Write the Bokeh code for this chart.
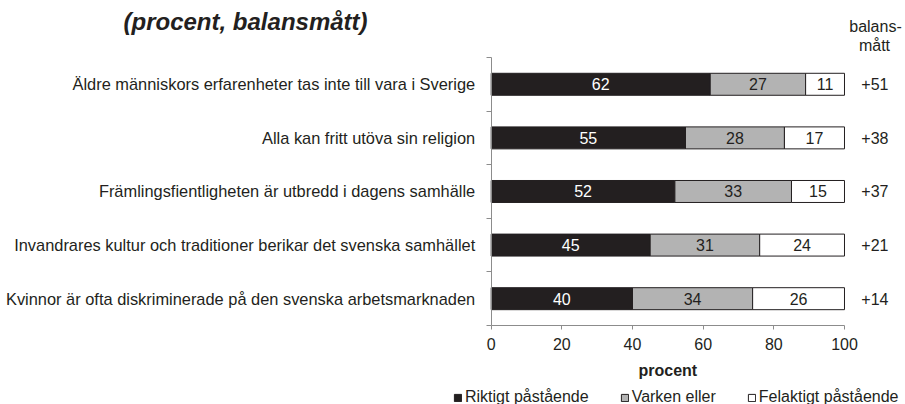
from bokeh.plotting import figure
from bokeh.models import ColumnDataSource, Range1d, FixedTicker, Legend, LegendItem
from bokeh.embed import file_html
from bokeh.resources import INLINE
from bokeh.core.properties import value

# ---- data ----
categories = [
    "Äldre människors erfarenheter tas inte till vara i Sverige",
    "Alla kan fritt utöva sin religion",
    "Främlingsfientligheten är utbredd i dagens samhälle",
    "Invandrares kultur och traditioner berikar det svenska samhället",
    "Kvinnor är ofta diskriminerade på den svenska arbetsmarknaden",
]
riktigt = [62, 55, 52, 45, 40]
varken = [27, 28, 33, 31, 34]
felaktigt = [11, 17, 15, 24, 26]
balans = ["+51", "+38", "+37", "+21", "+14"]
series_names = ["Riktigt påstående", "Varken eller", "Felaktigt påstående"]
x_ticks = [0, 20, 40, 60, 80, 100]
title_text = "(procent, balansmått)"
x_label = "procent"
balans_header = ["balans-", "mått"]

FONT = "Liberation Sans"
TXT = "#231f20"
AX = "#8c8c8c"
colors = ["#231f20", "#b3b3b3", "#ffffff"]
label_colors = ["#ffffff", TXT, TXT]

n = len(categories)
ypos = [n - i - 0.5 for i in range(n)]

r_left = [0] * n
r_right = riktigt[:]
v_left = r_right[:]
v_right = [a + b for a, b in zip(riktigt, varken)]
f_left = v_right[:]
f_right = [a + b for a, b in zip(v_right, felaktigt)]

src = ColumnDataSource(dict(
    y=ypos,
    r_left=r_left, r_right=r_right, r_mid=[(a + b) / 2 for a, b in zip(r_left, r_right)], r_lab=[str(v) for v in riktigt],
    v_left=v_left, v_right=v_right, v_mid=[(a + b) / 2 for a, b in zip(v_left, v_right)], v_lab=[str(v) for v in varken],
    f_left=f_left, f_right=f_right, f_mid=[(a + b) / 2 for a, b in zip(f_left, f_right)], f_lab=[str(v) for v in felaktigt],
    bal=balans,
))

W, H = 905, 404
# frame covers the whole canvas; the axes are pinned at the data origin
p = figure(width=W, height=H, output_backend="svg", toolbar_location=None,
           x_range=Range1d(-138.89, 117.27), y_range=Range1d(-1.474, 6.063),
           min_border=0, title_location=None)
p.outline_line_color = None
p.xgrid.visible = False
p.ygrid.visible = False

renderers = []
for key, col in zip(["r", "v", "f"], colors):
    r = p.hbar(y="y", left=f"{key}_left", right=f"{key}_right", height=0.41, source=src,
               fill_color=col, line_color="#231f20", line_width=1)
    renderers.append(r)

for key, tc in zip(["r", "v", "f"], label_colors):
    p.text(x=f"{key}_mid", y="y", text=f"{key}_lab", source=src, text_align="center",
           text_baseline="middle", text_color=tc, text_font=value(FONT), text_font_size="16px")

BAL_X = 108.6
p.text(x=BAL_X, y="y", text="bal", source=src, text_align="center", text_baseline="middle",
       text_color=TXT, text_font=value(FONT), text_font_size="16px")

# header of the balance column, title, axis title
p.text(x=[108.77, 108.49], y=[n + 0.578, n + 0.224], text=balans_header, text_align="center",
       text_baseline="alphabetic", text_color=TXT, text_font=value(FONT), text_font_size="16px")
p.text(x=[-104.07], y=[n + 0.672], text=[title_text], text_align="left", text_baseline="alphabetic",
       text_color=TXT, text_font=value(FONT), text_font_size="24px", text_font_style="bold italic")
p.text(x=[(x_ticks[0] + x_ticks[-1]) / 2], y=[-0.84], text=[x_label], text_align="center",
       text_baseline="alphabetic", text_color=TXT, text_font=value(FONT), text_font_size="16px",
       text_font_style="bold")

# x axis
xa = p.xaxis[0]
xa.fixed_location = 0
xa.ticker = FixedTicker(ticks=x_ticks)
xa.bounds = (x_ticks[0], x_ticks[-1])
xa.axis_line_color = AX
xa.major_tick_line_color = AX
xa.major_tick_out = 4
xa.major_tick_in = 0
xa.minor_tick_line_color = None
xa.major_label_text_font = FONT
xa.major_label_text_font_size = "16px"
xa.major_label_text_color = TXT
xa.major_label_standoff = 9

# y axis
ya = p.yaxis[0]
ya.fixed_location = 0
ya.ticker = FixedTicker(ticks=ypos, minor_ticks=list(range(n + 1)))
ya.bounds = (0, n)
ya.major_label_overrides = {y: c for y, c in zip(ypos, categories)}
ya.axis_line_color = AX
ya.major_tick_line_color = None
ya.major_tick_out = 0
ya.major_tick_in = 0
ya.minor_tick_line_color = AX
ya.minor_tick_out = 5
ya.minor_tick_in = 0
ya.major_label_text_font = FONT
ya.major_label_text_font_size = "16.4px"
ya.major_label_text_color = TXT
ya.major_label_standoff = 11

leg = Legend(items=[LegendItem(label=nm, renderers=[r]) for nm, r in zip(series_names, renderers)],
             location=(453, -2), orientation="horizontal", glyph_width=9, glyph_height=9,
             label_standoff=3, spacing=31, padding=0, margin=0, border_line_color=None,
             background_fill_alpha=0, label_text_font=FONT, label_text_font_size="16px",
             label_text_color=TXT, label_height=16)
p.add_layout(leg)

open("out.html", "w").write(file_html(p, INLINE))
